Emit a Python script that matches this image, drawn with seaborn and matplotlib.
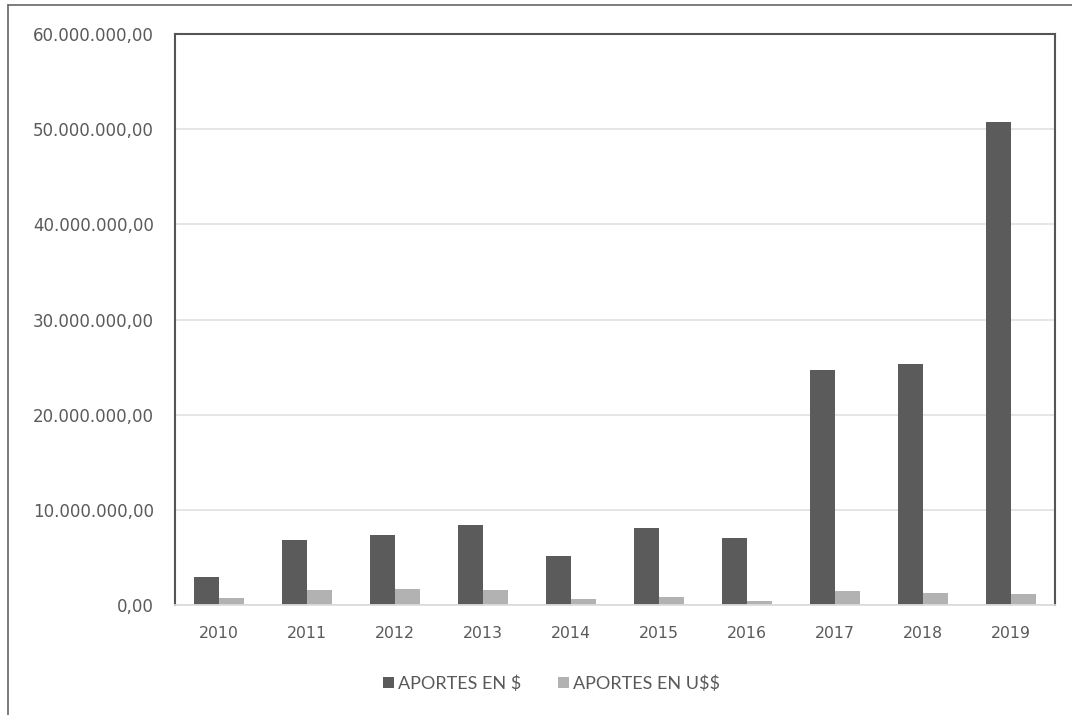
import matplotlib
matplotlib.use("Agg")
import matplotlib.pyplot as plt
from matplotlib.ticker import FuncFormatter, MultipleLocator
from matplotlib.lines import Line2D
import seaborn as sns
import pandas as pd

years = ["2010", "2011", "2012", "2013", "2014", "2015", "2016", "2017", "2018", "2019"]
aportes_pesos = [2900000, 6800000, 7400000, 8400000, 5200000, 8050000, 7000000, 24700000, 25300000, 50800000]
aportes_usd = [700000, 1600000, 1680000, 1600000, 630000, 840000, 420000, 1500000, 1230000, 1120000]
series_names = ["APORTES EN $", "APORTES EN U$$"]
colors = ["#5b5b5b", "#b2b2b2"]

df = pd.DataFrame({
    "year": years * 2,
    "value": aportes_pesos + aportes_usd,
    "serie": [series_names[0]] * len(years) + [series_names[1]] * len(years),
})

sns.set_style("white")
plt.rcParams["font.family"] = ["Lato", "DejaVu Sans"]
plt.rcParams["text.parse_math"] = False

fig = plt.figure(figsize=(10.72, 7.15), dpi=100)
ax = fig.add_axes([0.1632, 0.1538, 0.8209, 0.7986])

sns.barplot(data=df, x="year", y="value", hue="serie", palette=colors,
            width=0.57, ax=ax, saturation=1, edgecolor="none", legend=True)

ax.set_ylim(0, 60000000)
ax.yaxis.set_major_locator(MultipleLocator(10000000))
ax.yaxis.set_major_formatter(FuncFormatter(
    lambda v, p: f"{v:,.2f}".replace(",", "X").replace(".", ",").replace("X", ".")))
ax.set_axisbelow(True)
ax.grid(axis="y", color="#e3e3e3", linewidth=1.3)
ax.set_xlabel("")
ax.set_ylabel("")

for s in ["left", "top", "right"]:
    ax.spines[s].set_visible(True)
    ax.spines[s].set_color("#555555")
    ax.spines[s].set_linewidth(1.5)
ax.spines["bottom"].set_color("#dcdcdc")
ax.spines["bottom"].set_linewidth(1.3)

ax.tick_params(axis="y", length=0, pad=15, labelsize=12, labelcolor="#5a5a5a",
               labelfontfamily="DejaVu Sans")
ax.tick_params(axis="x", length=0, pad=15, labelsize=11.3, labelcolor="#5a5a5a",
               labelfontfamily="DejaVu Sans")

leg = ax.legend(loc="upper center", bbox_to_anchor=(0.428, -0.095), ncol=2, frameon=False,
                fontsize=13, handlelength=0.6, handleheight=0.6, handletextpad=0.25,
                columnspacing=2.0, labelcolor="#595959")

# outer frame of the picture
fig.add_artist(Line2D([0.0075, 1.0], [0.993, 0.993], transform=fig.transFigure, color="#666666", lw=1.2))
fig.add_artist(Line2D([0.0075, 0.0075], [0.0, 0.993], transform=fig.transFigure, color="#666666", lw=1.2))

fig.savefig("out.png", dpi=100)
